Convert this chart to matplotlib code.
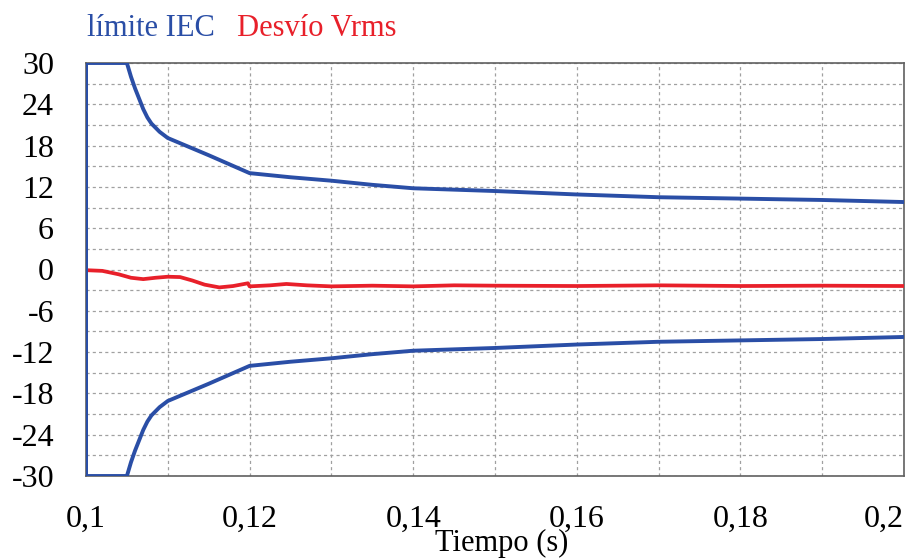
import matplotlib
matplotlib.use("Agg")
import matplotlib.pyplot as plt
from matplotlib.ticker import MultipleLocator

plt.rcParams['font.family'] = ['Liberation Serif', 'DejaVu Serif']

# IEC limit band (upper / lower) vs time
t_lim = [0.1, 0.1, 0.105, 0.1055, 0.106, 0.1065, 0.107, 0.1075, 0.108, 0.109, 0.110,
         0.115, 0.120, 0.125, 0.130, 0.135, 0.140, 0.150, 0.160, 0.170, 0.180,
         0.190, 0.200]
lim_up = [-30, 30, 30, 28.0, 26.3, 24.8, 23.3, 22.1, 21.2, 20.0, 19.1,
          16.6, 14.0, 13.4, 12.9, 12.3, 11.8, 11.4, 10.9, 10.5, 10.3,
          10.1, 9.8]
lim_low = [30, -30, -30, -28.0, -26.3, -24.8, -23.3, -22.1, -21.2, -20.0, -19.1,
           -16.6, -14.0, -13.4, -12.9, -12.3, -11.8, -11.4, -10.9, -10.5, -10.3,
           -10.1, -9.8]

# Vrms deviation
t_dev = [0.100, 0.102, 0.104, 0.1055, 0.107, 0.1085, 0.110, 0.1115, 0.113,
         0.1145, 0.1163, 0.118, 0.1198, 0.1200, 0.1225, 0.1245, 0.127, 0.130,
         0.135, 0.140, 0.145, 0.150, 0.160, 0.170, 0.180, 0.190, 0.200]
dev = [-0.1, -0.2, -0.7, -1.2, -1.4, -1.2, -1.05, -1.1, -1.6,
       -2.2, -2.6, -2.4, -2.0, -2.45, -2.3, -2.1, -2.3, -2.45,
       -2.35, -2.45, -2.3, -2.35, -2.4, -2.3, -2.4, -2.35, -2.4]

x_ticks = [0.10, 0.12, 0.14, 0.16, 0.18, 0.20]
x_labels = ['0,1', '0,12', '0,14', '0,16', '0,18', '0,2']
y_ticks = [30, 24, 18, 12, 6, 0, -6, -12, -18, -24, -30]
y_labels = ['30', '24', '18', '12', '6', '0', '-6', '-12', '-18', '-24', '-30']

blue = '#2a4ea6'
red = '#e8202a'

fig = plt.figure(figsize=(9.06, 5.58), dpi=100)
ax = fig.add_axes([86 / 906, 1 - 476 / 558, 818 / 906, 413 / 558])

ax.plot(t_dev, dev, color=red, lw=2.7, zorder=3)
ax.plot(t_lim, lim_up, color=blue, lw=2.8, zorder=4)
ax.plot(t_lim, lim_low, color=blue, lw=2.8, zorder=4)

ax.set_xlim(0.1, 0.2)
ax.set_ylim(-30, 30)
ax.set_xticks(x_ticks)
ax.set_xticklabels(x_labels)
ax.set_yticks(y_ticks)
ax.set_yticklabels(y_labels)
ax.xaxis.set_minor_locator(MultipleLocator(0.01))
ax.yaxis.set_minor_locator(MultipleLocator(3))
ax.tick_params(which='both', length=0)
ax.tick_params(axis='x', pad=21, labelsize=23)
ax.tick_params(axis='y', pad=23, labelsize=23)
ax.get_xticklabels()[-1].set_horizontalalignment('right')

ax.grid(which='both', color='#a0a0a0', lw=0.9, linestyle=(0, (2.5, 2.5)))
for s in ax.spines.values():
    s.set_color('#606060')
    s.set_linewidth(1.2)

fig.text(87 / 906, 1 - 29 / 558, 'límite IEC', color=blue, fontsize=22, va='center')
fig.text(237 / 906, 1 - 29 / 558, 'Desvío Vrms', color=red, fontsize=22, va='center')
fig.text(502 / 906, 1 - 551 / 558, 'Tiempo (s)', fontsize=22, ha='center', va='baseline')

fig.savefig('out.png', dpi=100)
